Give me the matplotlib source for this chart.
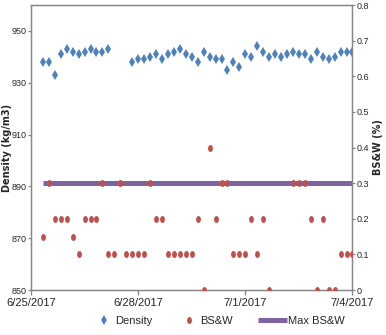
import pandas as pd
import numpy as np
import matplotlib
matplotlib.use('Agg')
import matplotlib.pyplot as plt
import matplotlib.dates as mdates
from matplotlib.path import Path
from matplotlib.transforms import Affine2D
from matplotlib.ticker import FuncFormatter, MultipleLocator
from matplotlib import font_manager

nan = np.nan

# readings every 4 hours, 6/25 08:00 through 7/4 00:00
times = pd.date_range('2017-06-25 08:00', '2017-07-04 00:00', freq='4h')

density = [938, 938, 933, 941, 943, 942, 941, 942, 943, 942, 942, 943,
           nan, nan, nan,
           938, 939, 939, 940, 941, 939, 941, 942, 943, 941, 940, 938,
           942, 940, 939, 939, 935, 938, 936,
           941, 940, 944, 942, 940, 941, 940, 941, 942, 941, 941, 939,
           942, 940, 939, 940, 942, 942, 942]

bsw = [0.15, 0.3, 0.2, 0.2, 0.2, 0.15, 0.1, 0.2, 0.2, 0.2, 0.3, 0.1, 0.1,
       0.3, 0.1, 0.1, 0.1, 0.1, 0.3, 0.2, 0.2, 0.1, 0.1, 0.1, 0.1, 0.1,
       0.2, 0.0, 0.4, 0.2, 0.3, 0.3, 0.1, 0.1, 0.1, 0.2, 0.1, 0.2, 0.0,
       nan, nan, nan,
       0.3, 0.3, 0.3, 0.2, 0.0, 0.2, 0.0, 0.0, 0.1, 0.1, 0.1]

max_bsw = 0.3

blue = '#4F81BD'
red = '#C0504D'
purple = '#8064A2'
axis_grey = '#868686'
text_grey = '#262626'

# pick a narrow face for the tick text if one is around
installed = {f.name for f in font_manager.fontManager.ttflist}
tick_font = [f for f in ['Liberation Sans Narrow', 'DejaVu Sans Condensed',
                         'Liberation Sans'] if f in installed] + ['DejaVu Sans']

# tall narrow dot like the spreadsheet marker
oval = Path.unit_circle().transformed(Affine2D().scale(0.7, 1.0))

fig = plt.figure(figsize=(3.86, 3.35), dpi=100)
ax = fig.add_axes([0.0803, 0.1343, 0.8329, 0.8507])
ax2 = ax.twinx()

ax.plot(times, density, linestyle='none', marker='d', markersize=5,
        color=blue, markeredgewidth=0, label='Density')
ax2.plot(times, [max_bsw] * len(times), color=purple, linewidth=3.6,
         solid_capstyle='butt', label='Max BS&W', zorder=2)
ax2.plot(times, bsw, linestyle='none', marker=oval, markersize=5,
         color=red, markeredgewidth=0, label='BS&W', zorder=3)

ax.set_xlim(pd.Timestamp('2017-06-25'), pd.Timestamp('2017-07-04'))
ax.xaxis.set_major_locator(mdates.DayLocator(interval=3))
ax.xaxis.set_major_formatter(
    FuncFormatter(lambda v, p: '{d.month}/{d.day}/{d.year}'.format(d=mdates.num2date(v))))

ax.set_ylim(850, 960)
ax.set_yticks([850, 870, 890, 910, 930, 950])
ax2.set_ylim(0, 0.8)
ax2.yaxis.set_major_locator(MultipleLocator(0.1))
ax2.yaxis.set_major_formatter(FuncFormatter(lambda v, p: '{:g}'.format(round(v, 1))))

for a in (ax, ax2):
    for s in a.spines.values():
        s.set_color(axis_grey)
        s.set_linewidth(0.9)
    a.tick_params(direction='out', length=3.5, width=0.9, color=axis_grey,
                  labelcolor=text_grey, pad=2)
    a.tick_params(axis='x', labelsize=8)
    a.tick_params(axis='y', labelsize=6.5, length=2.5, pad=0.8)
    for lbl in a.get_xticklabels() + a.get_yticklabels():
        lbl.set_family(tick_font)

ax.set_ylabel('Density (kg/m3)', fontsize=7, fontweight='bold',
              color=text_grey)
ax.yaxis.set_label_coords(-0.0591, 0.5)
ax2.set_ylabel('BS&W (%)', fontsize=7, fontweight='bold', color=text_grey,
               rotation=90)
ax2.yaxis.set_label_coords(1.063, 0.5)

h1, l1 = ax.get_legend_handles_labels()
h2, l2 = ax2.get_legend_handles_labels()
leg_font = {'family': tick_font, 'size': 8}

# marker entries and the limit line use different handle lengths
leg1 = fig.legend([h1[0], h2[1]], [l1[0], l2[1]], loc='center left',
                  bbox_to_anchor=(0.255, 0.042), ncol=2, frameon=False,
                  borderpad=0, borderaxespad=0, handlelength=1.0,
                  handletextpad=0.5, columnspacing=2.8, prop=leg_font)
leg2 = fig.legend([h2[0]], [l2[0]], loc='center left',
                  bbox_to_anchor=(0.668, 0.042), frameon=False,
                  borderpad=0, borderaxespad=0, handlelength=2.6,
                  handletextpad=0.1, prop=leg_font)
for leg in (leg1, leg2):
    for t in leg.get_texts():
        t.set_color(text_grey)

fig.savefig('out.png', dpi=100)
